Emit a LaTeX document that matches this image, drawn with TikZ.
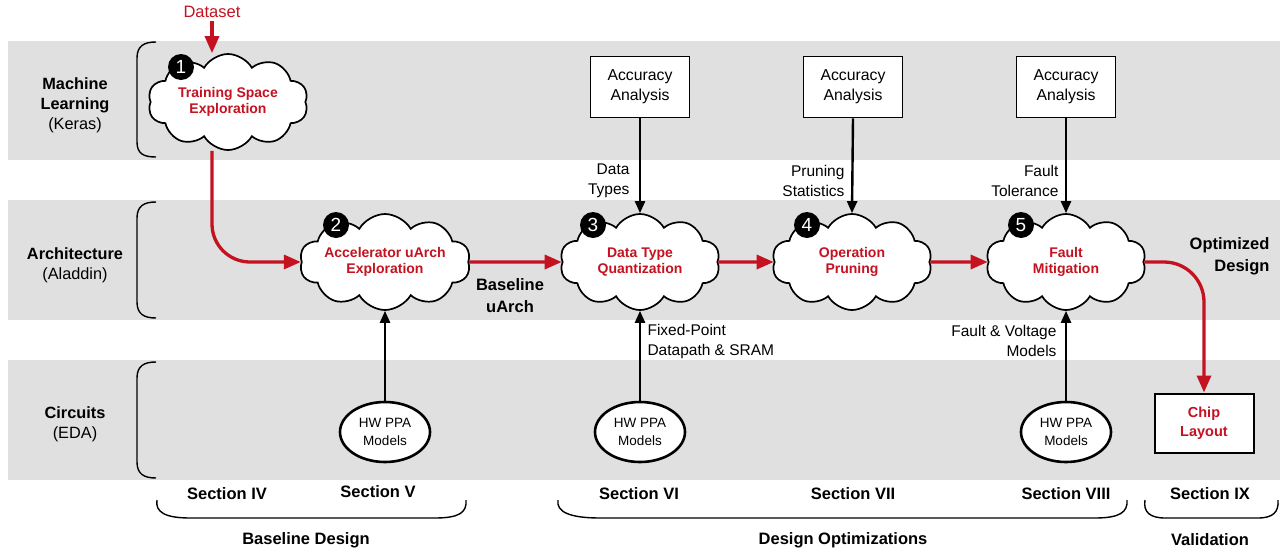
\documentclass[tikz,border=0pt]{standalone}
\usepackage{fontspec}
\setmainfont{Liberation Sans}
\usetikzlibrary{shapes.symbols,shapes.geometric,arrows.meta,calc}
\definecolor{band}{RGB}{224,224,224}
\definecolor{dred}{RGB}{196,18,32}
\begin{document}
\begin{tikzpicture}[x=1pt,y=-1pt,
  layer/.style={align=center,font=\fontsize{16.3}{20}\selectfont},
  cloudn/.style={cloud,cloud puffs=10,cloud puff arc=120,cloud ignores aspect,draw,line width=1.7pt,fill=white,
    minimum width=160pt,minimum height=96pt,align=center,text=dred,font=\fontsize{14}{16.5}\selectfont\bfseries,inner sep=0pt},
  num/.style={circle,fill=black,text=white,minimum size=26pt,inner sep=0pt,font=\fontsize{19}{19}\selectfont},
  acc/.style={draw,line width=1.7pt,fill=white,minimum width=99pt,minimum height=61pt,align=center,font=\fontsize{15.8}{20}\selectfont},
  hw/.style={ellipse,draw,line width=2.6pt,fill=white,minimum width=90pt,minimum height=60pt,align=center,font=\fontsize{13.5}{18}\selectfont,inner sep=0pt},
  chipbox/.style={draw,line width=2pt,fill=white,minimum width=99pt,minimum height=59pt,align=center,text=dred,font=\fontsize{14.5}{19}\selectfont\bfseries},
  lbl/.style={font=\fontsize{15.5}{20}\selectfont},
  sec/.style={font=\fontsize{16.5}{22}\selectfont\bfseries},
  rarr/.style={draw=dred,line width=3.3pt,-{Triangle[length=17pt,width=14pt]}},
  barr/.style={draw=black,line width=2.4pt,-{Triangle[length=12pt,width=10pt]}},
  brk/.style={line width=1.4pt}
]
\useasboundingbox (0,0) rectangle (1283,552);
% bands
\fill[band] (8,41) rectangle (1280,160);
\fill[band] (8,200) rectangle (1280,320);
\fill[band] (8,360) rectangle (1280,480);
% layer labels
\node[layer] (l1) at (75,105) {\textbf{Machine}\\\textbf{Learning}\\(Keras)};
\node[layer] (l2) at (75,265) {\textbf{Architecture}\\(Aladdin)};
\node[layer] (l3) at (75,424) {\textbf{Circuits}\\(EDA)};
% brackets
\draw[brk] (156,42) .. controls (144,42) and (137,46) .. (137,58) -- (137,142) .. controls (137,154) and (144,157) .. (156,157);
\draw[brk] (156,202) .. controls (144,202) and (137,206) .. (137,218) -- (137,302) .. controls (137,314) and (144,318) .. (156,318);
\draw[brk] (156,362) .. controls (144,362) and (137,366) .. (137,378) -- (137,462) .. controls (137,474) and (144,478) .. (156,478);
% clouds
\node[cloudn] (c1) at (228,102) {Training Space\\Exploration};
\node[cloudn] (c2) at (385,262) {Accelerator uArch\\Exploration};
\node[cloudn] (c3) at (640,262) {Data Type\\Quantization};
\node[cloudn] (c4) at (852,262) {Operation\\Pruning};
\node[cloudn] (c5) at (1066,262) {Fault\\Mitigation};
\node[num] (n1) at (181,67) {1};
\node[num] (n2) at (336,225) {2};
\node[num] (n3) at (593,225) {3};
\node[num] (n4) at (807,225) {4};
\node[num] (n5) at (1021,225) {5};
% boxes
\node[acc] (a3) at (640,87) {Accuracy\\Analysis};
\node[acc] (a4) at (853,87) {Accuracy\\Analysis};
\node[acc] (a5) at (1066,87) {Accuracy\\Analysis};
\node[hw] (h2) at (385,432) {HW PPA\\Models};
\node[hw] (h3) at (640,432) {HW PPA\\Models};
\node[hw] (h5) at (1066,432) {HW PPA\\Models};
\node[chipbox] (chip) at (1204,423) {Chip\\Layout};
% labels
\node[lbl,text=dred,font=\fontsize{16.5}{20}\selectfont] (ds) at (212,12) {Dataset};
\node[lbl,anchor=east,align=right] (t3) at (633,181) {Data\\Types};
\node[lbl,anchor=east,align=right] (t4) at (848,181) {Pruning\\Statistics};
\node[lbl,anchor=east,align=right] (t5) at (1062,181) {Fault\\Tolerance};
\node[lbl,anchor=west,align=left] (b3) at (644,341) {Fixed-Point\\Datapath \& SRAM};
\node[lbl,anchor=east,align=right] (b5) at (1060,341) {Fault \& Voltage\\Models};
\node[sec,align=center] (bu) at (510,296) {Baseline\\uArch};
\node[sec,align=right,anchor=east] (od) at (1273,256) {Optimized\\Design};
% arrows
\draw[rarr] (ds.south) -- (ds.south |- c1.north);
\draw[rarr,rounded corners=38pt] ($(c1.south)+(-16,0)$) |- (c2.west);
\draw[rarr] (c2.east) -- (c3.west);
\draw[rarr] (c3.east) -- (c4.west);
\draw[rarr] (c4.east) -- (c5.west);
\draw[rarr,rounded corners=40pt] (c5.east) -| (chip.north);
\draw[barr] (a3.south) -- (c3.north);
\draw[barr] (a4.south) -- (c4.north);
\draw[barr] (a5.south) -- (c5.north);
\draw[barr] (h2.north) -- (c2.south);
\draw[barr] (h3.north) -- (c3.south);
\draw[barr] (h5.north) -- (c5.south);
% sections
\node[sec] (s4) at (227,494) {Section IV};
\node[sec] (s5) at (378,492) {Section V};
\node[sec] (s6) at (639,494) {Section VI};
\node[sec] (s7) at (853,494) {Section VII};
\node[sec] (s8) at (1066,494) {Section VIII};
\node[sec] (s9) at (1210,494) {Section IX};
\draw[brk] (157,500) .. controls (155,512) and (165,518) .. (190,518) -- (435,518) .. controls (460,518) and (467,512) .. (466,500);
\draw[brk] (558,500) .. controls (556,512) and (570,518) .. (600,518) -- (1095,518) .. controls (1120,518) and (1128,512) .. (1127,500);
\draw[brk] (1145,500) .. controls (1143,512) and (1150,518) .. (1165,518) -- (1258,518) .. controls (1273,518) and (1279,512) .. (1278,500);
\node[sec] (g1) at (306,540) {Baseline Design};
\node[sec] (g2) at (843,540) {Design Optimizations};
\node[sec] (g3) at (1210,540) {Validation};
\end{tikzpicture}
\end{document}
